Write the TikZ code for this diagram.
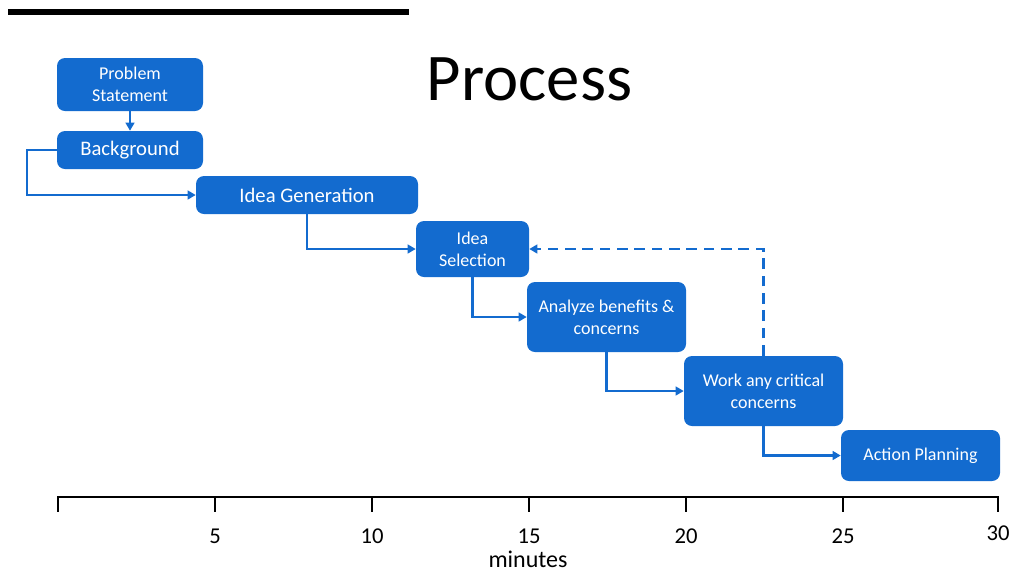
\documentclass[tikz,border=0pt]{standalone}
\usepackage{fontspec}
\setmainfont{Carlito}
\usetikzlibrary{arrows.meta}
\definecolor{boxblue}{HTML}{136BCF}
\tikzset{
  box/.style={fill=boxblue, rounded corners=6pt, text=white, align=center, inner sep=0pt},
  link/.style={draw=boxblue, line width=1.7pt, -{Triangle[length=6pt,width=6.5pt]}},
  dlink/.style={link, dash pattern=on 8pt off 5pt},
  axis/.style={line width=2.2pt, black},
  ticklabel/.style={font=\fontsize{17}{20}\selectfont, anchor=base}
}
\begin{document}
\begin{tikzpicture}[x=0.75pt,y=-0.75pt]
\useasboundingbox (0,0) rectangle (1011,572);
% top rule
\draw[line width=3.8pt] (8,12) -- (409,12);
% title
\node[anchor=base, font=\fontsize{50}{56}\selectfont] (title) at (529.5,100) {Process};
% boxes
\node[box, minimum width=109.5pt, minimum height=39.75pt, font=\fontsize{13.5}{16.5}\selectfont] (ps) at (130,84.5) {Problem\\Statement};
\node[box, minimum width=109.5pt, minimum height=28.5pt, font=\fontsize{15.5}{18}\selectfont] (bg) at (130,150) {Background};
\node[box, minimum width=166.5pt, minimum height=28.5pt, font=\fontsize{15.5}{18}\selectfont] (ig) at (307,195) {Idea Generation};
\node[box, minimum width=84.75pt, minimum height=42pt, font=\fontsize{13.5}{16.5}\selectfont] (is) at (472.5,249) {Idea\\Selection};
\node[box, minimum width=119.25pt, minimum height=52.5pt, font=\fontsize{13.5}{16.5}\selectfont] (an) at (606.5,317) {Analyze benefits \&\\concerns};
\node[box, minimum width=119.25pt, minimum height=52.5pt, font=\fontsize{13.5}{16.5}\selectfont] (wk) at (763.5,391) {Work any critical\\concerns};
\node[box, minimum width=119.25pt, minimum height=38.25pt, font=\fontsize{13.5}{16.5}\selectfont] (ap) at (920.5,455.5) {Action Planning};
% connectors
\draw[link] (ps.south) -- (bg.north);
\draw[link] (bg.west) -- ++(-30,0) |- (ig.west);
\draw[link] (ig.south) |- (is.west);
\draw[link] (is.south) |- (an.west);
\draw[link] (an.south) |- (wk.west);
\draw[link] (wk.south) |- (ap.west);
\draw[dlink] (wk.north) |- (is.east);
% axis
\draw[axis] (58,497) -- (998,497);
\foreach \x in {58,215,372,529,686,843,998} \draw[axis] (\x,496) -- (\x,512);
\node[ticklabel] (t5) at (215,543) {5};
\node[ticklabel] (t10) at (372,543) {10};
\node[ticklabel] (t15) at (529,543) {15};
\node[ticklabel] (t20) at (686,543) {20};
\node[ticklabel] (t25) at (843,543) {25};
\node[ticklabel] (t30) at (998,540) {30};
\node[anchor=base, font=\fontsize{18}{22}\selectfont] (minutes) at (528,567) {minutes};
\end{tikzpicture}
\end{document}
